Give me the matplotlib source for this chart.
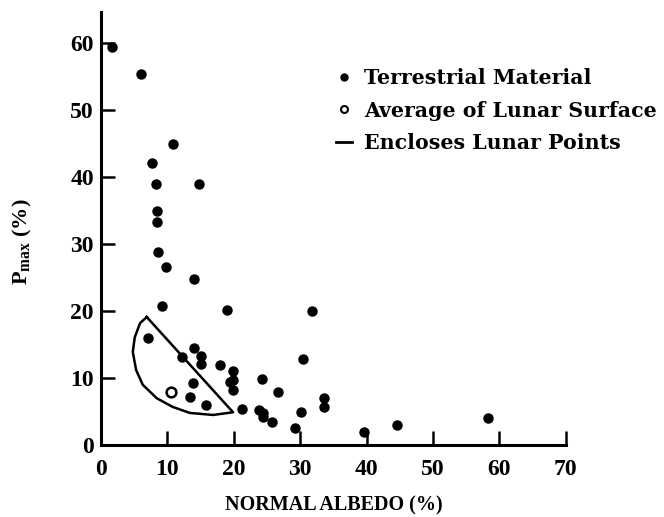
import matplotlib.pyplot as plt
from matplotlib.lines import Line2D

# Terrestrial material: normal albedo (%) vs P_max (%)
terr_albedo = [1.7, 6.0, 10.8, 7.7, 8.3, 14.8, 8.4, 8.4, 8.6, 9.8, 14.0, 9.2, 19.0,
               31.8, 7.1, 12.2, 14.0, 15.1, 15.1, 17.9, 19.9, 19.4, 19.9, 19.9,
               13.9, 13.4, 15.8, 21.2, 24.2, 26.7, 23.8, 24.4, 24.4, 25.8, 30.4,
               33.6, 33.6, 30.1, 29.3, 39.6, 44.6, 58.3]
terr_pmax = [59.3, 55.4, 44.9, 42.1, 39.0, 39.0, 34.9, 33.3, 28.8, 26.6, 24.8, 20.7, 20.1,
             20.0, 16.0, 13.1, 14.5, 13.3, 12.1, 11.9, 11.0, 9.4, 9.7, 8.2,
             9.3, 7.2, 6.0, 5.4, 9.8, 7.9, 5.2, 4.8, 4.2, 3.4, 12.8,
             7.0, 5.7, 4.9, 2.5, 1.9, 3.0, 4.0]

# average of lunar surface
lunar_albedo = [10.5]
lunar_pmax = [7.9]

# outline enclosing the lunar points
env_albedo = [6.9, 19.9, 16.9, 13.4, 10.8, 8.4, 6.3, 5.3, 4.8, 5.1, 5.9, 6.9]
env_pmax = [19.1, 4.9, 4.5, 4.8, 5.7, 7.0, 9.0, 11.2, 13.9, 16.1, 18.2, 19.1]

x_ticks = [0, 10, 20, 30, 40, 50, 60, 70]
y_ticks = [0, 10, 20, 30, 40, 50, 60]

plt.rcParams['font.family'] = ['Liberation Serif', 'DejaVu Serif']
plt.rcParams['font.weight'] = 'bold'
plt.rcParams['mathtext.default'] = 'regular'

fig = plt.figure(figsize=(6.64, 5.17), dpi=100)
ax = fig.add_axes([0.152, 0.139, 0.70, 0.838])

ax.plot(terr_albedo, terr_pmax, 'o', color='black', markersize=6.5, linestyle='none')
ax.plot(lunar_albedo, lunar_pmax, 'o', markerfacecolor='white', markeredgecolor='black',
        markeredgewidth=1.8, markersize=7, linestyle='none')
ax.plot(env_albedo, env_pmax, color='black', linewidth=1.8)

ax.set_xlim(0, 70)
ax.set_ylim(0, 64.6)
ax.set_xticks(x_ticks)
ax.set_yticks(y_ticks)
ax.tick_params(direction='in', length=10, width=1.8, labelsize=17, pad=5)
ax.tick_params(axis='x', pad=10)
for s in ['top', 'right']:
    ax.spines[s].set_visible(False)
for s in ['left', 'bottom']:
    ax.spines[s].set_linewidth(2.2)

ax.set_xlabel('NORMAL ALBEDO (%)', fontsize=14.5, fontweight='bold', labelpad=11)
ax.set_ylabel('P$_{max}$ (%)', fontsize=16, fontweight='bold')
ax.yaxis.set_label_coords(-0.143, 0.47)

handles = [
    Line2D([], [], marker='o', color='black', linestyle='none', markersize=5),
    Line2D([], [], marker='o', markerfacecolor='white', markeredgecolor='black',
           markeredgewidth=1.5, linestyle='none', markersize=5),
    Line2D([], [], color='black', linewidth=2),
]
labels = ['Terrestrial Material', 'Average of Lunar Surface', 'Encloses Lunar Points']
ax.legend(handles, labels, loc='upper left', bbox_to_anchor=(0.505, 0.87), frameon=False,
          prop={'family': 'DejaVu Serif', 'weight': 'bold', 'size': 14.8},
          handlelength=0.8, handletextpad=0.6, labelspacing=0.6, borderaxespad=0,
          borderpad=0)

fig.savefig('out.png', dpi=100)
